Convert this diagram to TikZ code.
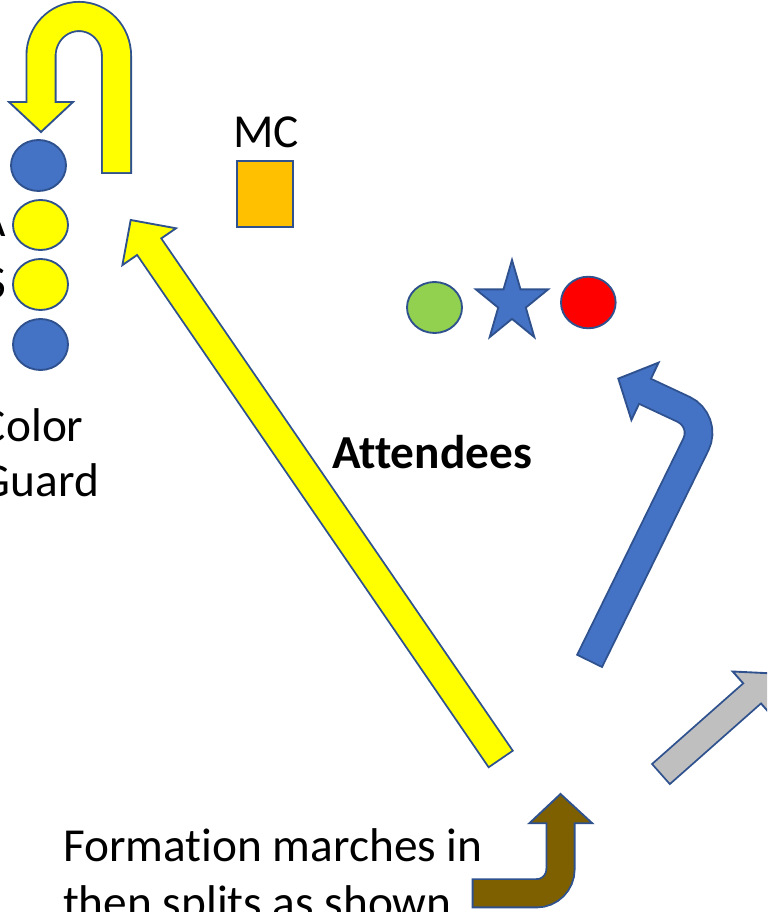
\documentclass[tikz,border=0pt]{standalone}
\usepackage{fontspec}
\setmainfont{Carlito}[Ligatures={NoCommon}]
\usetikzlibrary{shapes.geometric}
\definecolor{ol}{HTML}{2F528F}
\definecolor{bl}{HTML}{4472C4}
\definecolor{yl}{HTML}{FFFF00}
\definecolor{og}{HTML}{FFC000}
\definecolor{gr}{HTML}{92D050}
\definecolor{rd}{HTML}{FF0000}
\definecolor{gy}{HTML}{BFBFBF}
\definecolor{bn}{HTML}{7F6000}
\tikzset{
  outl/.style={draw=ol, line width=1.4pt},
  dot/.style={ellipse, outl, inner sep=0pt, outer sep=0pt},
  lbl/.style={inner sep=0pt, outer sep=0pt, font=\fontsize{35.5}{42}\selectfont},
  shaftborder/.style={draw=ol, line width=#1},
  shaftfill/.style={draw=#1, shorten <=1.4pt, shorten >=-1.4pt},
  headshape/.style={fill=#1, outl, line join=miter},
}
\begin{document}
\begin{tikzpicture}[x=0.75pt,y=-0.75pt]
\useasboundingbox (0,0) rectangle (767,912);
\fill[white] (0,0) rectangle (767,912);
\clip (0,0) rectangle (767,912);

% --- formation dots (left) ---
\node[dot, fill=bl, minimum width=41.25pt, minimum height=38.25pt] (b1) at (38.5,165.5) {};
\node[dot, fill=yl, minimum width=41.25pt, minimum height=37.5pt] (y1) at (40.5,225) {};
\node[dot, fill=yl, minimum width=41.25pt, minimum height=38.25pt] (y2) at (40.5,284.5) {};
\node[dot, fill=bl, minimum width=41.25pt, minimum height=38.25pt] (b2) at (40.5,344.5) {};

% --- partial labels at the left edge ---
\node[lbl, anchor=base east] (la) at (6,237) {A};
\node[lbl, anchor=base east] (ls) at (6,298.5) {S};
\node[lbl, anchor=base west] (cg1) at (-19,441.7) {Color};
\node[lbl, anchor=base west] (cg2) at (-19,496.7) {Guard};

% --- MC ---
\node[lbl, anchor=base west] (mct) at (233,148) {MC};
\node[outl, fill=og, minimum width=42pt, minimum height=49.5pt, inner sep=0pt] (mcb) at (265,194) {};

% --- attendees ---
\node[dot, fill=gr, minimum width=41.25pt, minimum height=38.25pt] (gdot) at (434.5,307.5) {};
\node[dot, fill=rd, minimum width=41pt, minimum height=38.7pt] (rdot) at (588.3,302.5) {};
\draw[outl, fill=bl, line join=miter] (512,260) -- (520.5,289.4) -- (548.1,289.4) -- (525.8,307.6)
  -- (534.3,337.1) -- (512,318.9) -- (489.7,337.1) -- (498.2,307.6) -- (475.9,289.4) -- (503.5,289.4) -- cycle;
\node[lbl, anchor=base west, font=\fontsize{35.5}{42}\selectfont\bfseries] (att) at (332,468) {Attendees};

% --- text bottom ---
\node[lbl, anchor=base west] (f1) at (63,861) {Formation marches in};
\node[lbl, anchor=base west] (f2) at (63,918) {then splits as shown};

% --- U-turn yellow arrow ---
\coordinate (uT) at (116.5,174);
\coordinate (uN) at (41,102);
\draw[shaftborder=23.25pt] (uT) -- (116.5,56) .. controls (116.5,34) and (100,16.5) .. (79,16.5)
  .. controls (58,16.5) and (41,34) .. (41,56) -- (uN);
\draw[headshape=yl] (9,102) -- (73,102) -- (41,132) -- cycle;
\draw[shaftfill=yl, line width=20.45pt] (uT) -- (116.5,56) .. controls (116.5,34) and (100,16.5) .. (79,16.5)
  .. controls (58,16.5) and (41,34) .. (41,56) -- (uN);

% --- long yellow arrow ---
\coordinate (yT) at (501.2,759.7);
\coordinate (yN) at (149.2,246.7);
\draw[shaftborder=23.25pt] (yT) -- (yN);
\draw[headshape=yl] (176,228.3) -- (130.7,220) -- (122.4,265.1) -- cycle;
\draw[shaftfill=yl, line width=20.45pt] (yT) -- (yN);

% --- blue bent arrow ---
\coordinate (bT) at (589.2,661.7);
\coordinate (bC) at (707.6,420.6);
\coordinate (bN) at (645,391.3);
\draw[shaftborder=22.1pt, rounded corners=20pt] (bT) -- (bC) -- (bN);
\draw[headshape=bl] (658.6,362.6) -- (618.3,378.6) -- (631.4,420) -- cycle;
\draw[shaftfill=bl, line width=19.3pt, rounded corners=20pt] (bT) -- (bC) -- (bN);

% --- gray arrow ---
\coordinate (gT) at (660.3,774.6);
\coordinate (gN) at (752.1,693.4);
\draw[shaftborder=21.4pt] (gT) -- (gN);
\draw[headshape=gy] (732.7,671.5) -- (774.6,673.5) -- (771.5,715.3) -- cycle;
\draw[shaftfill=gy, line width=18.6pt] (gT) -- (gN);

% --- brown arrow ---
\coordinate (nT) at (471.7,893.3);
\coordinate (nC) at (560.5,893.3);
\coordinate (nN) at (560.5,823.3);
\draw[shaftborder=22.5pt, rounded corners=18pt] (nT) -- (nC) -- (nN);
\draw[headshape=bn] (529.3,823.3) -- (592.3,823.3) -- (560.5,794) -- cycle;
\draw[shaftfill=bn, line width=19.7pt, rounded corners=18pt] (nT) -- (nC) -- (nN);
\end{tikzpicture}
\end{document}
